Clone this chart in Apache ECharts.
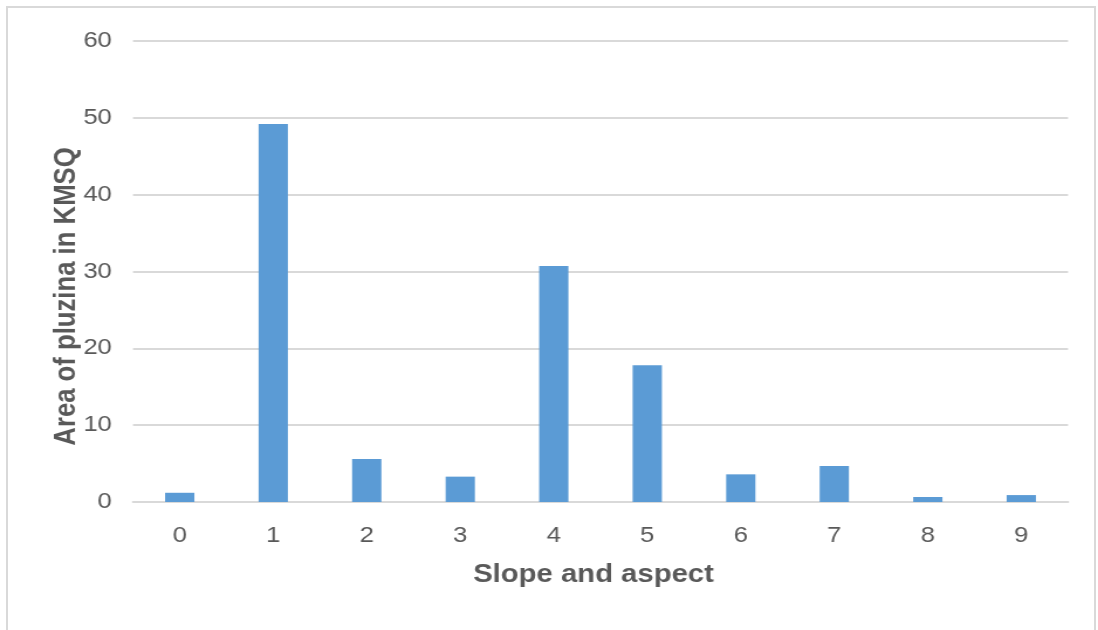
<!DOCTYPE html>
<html>
<head>
<meta charset="utf-8">
<script src="https://cdn.jsdelivr.net/npm/echarts@6/dist/echarts.min.js"></script>
<style>
  html, body { margin: 0; padding: 0; background: #ffffff; overflow: hidden; }
  #frame {
    position: absolute; left: 6px; top: 6px; width: 1090px; height: 640px;
    border-left: 2px solid #d9d9d9; border-top: 2px solid #d9d9d9; border-right: 2px solid #d9d9d9;
    box-sizing: border-box;
  }
  /* the figure is drawn on a narrower canvas and widened horizontally */
  #chart {
    position: absolute; left: 0; top: 0; width: 938px; height: 630px;
    transform: scaleX(1.1706); transform-origin: 0 0;
  }
</style>
</head>
<body>
<div id="frame"></div>
<div id="chart"></div>
<script>
// Slope-and-aspect classes and the pluzina area (km²) in each
const categories = ['0', '1', '2', '3', '4', '5', '6', '7', '8', '9'];
const areaValues = [1.2, 49.2, 5.6, 3.3, 30.7, 17.8, 3.6, 4.7, 0.65, 0.9];
const yTicks = { min: 0, max: 60, interval: 10 };

const textColor = '#595959';
const gridColor = '#d9d9d9';
const fontFamily = 'Liberation Sans, Arial, sans-serif';

const chart = echarts.init(document.getElementById('chart'), null, { renderer: 'canvas' });
chart.setOption({
  animation: false,
  backgroundColor: 'transparent',
  grid: { left: 113.6, right: 25.6, top: 41, bottom: 128 },
  xAxis: {
    type: 'category',
    data: categories,
    name: 'Slope and aspect',
    nameLocation: 'middle',
    nameGap: 61,
    nameMoveOverlap: false,
    nameTextStyle: { color: textColor, fontSize: 25, fontWeight: 'bold', fontFamily, padding: [0, 12, 0, 0] },
    axisLine: { show: true, lineStyle: { color: gridColor, width: 2 } },
    axisTick: { show: false },
    axisLabel: { color: textColor, fontSize: 22, margin: 23, fontFamily }
  },
  yAxis: {
    type: 'value',
    min: yTicks.min,
    max: yTicks.max,
    interval: yTicks.interval,
    name: 'Area of pluzina in KMSQ',
    nameLocation: 'middle',
    nameGap: 44,
    nameMoveOverlap: false,
    nameTextStyle: { color: textColor, fontSize: 25.7, fontWeight: 'bold', fontFamily, padding: [0, 50, 0, 0] },
    axisLine: { show: false },
    axisTick: { show: false },
    axisLabel: { color: textColor, fontSize: 22, margin: 18, fontFamily },
    splitLine: { lineStyle: { color: gridColor, width: 2 } }
  },
  series: [{
    type: 'bar',
    data: areaValues,
    barWidth: 25,
    itemStyle: { color: '#5b9bd5' }
  }]
});
</script>
</body>
</html>
